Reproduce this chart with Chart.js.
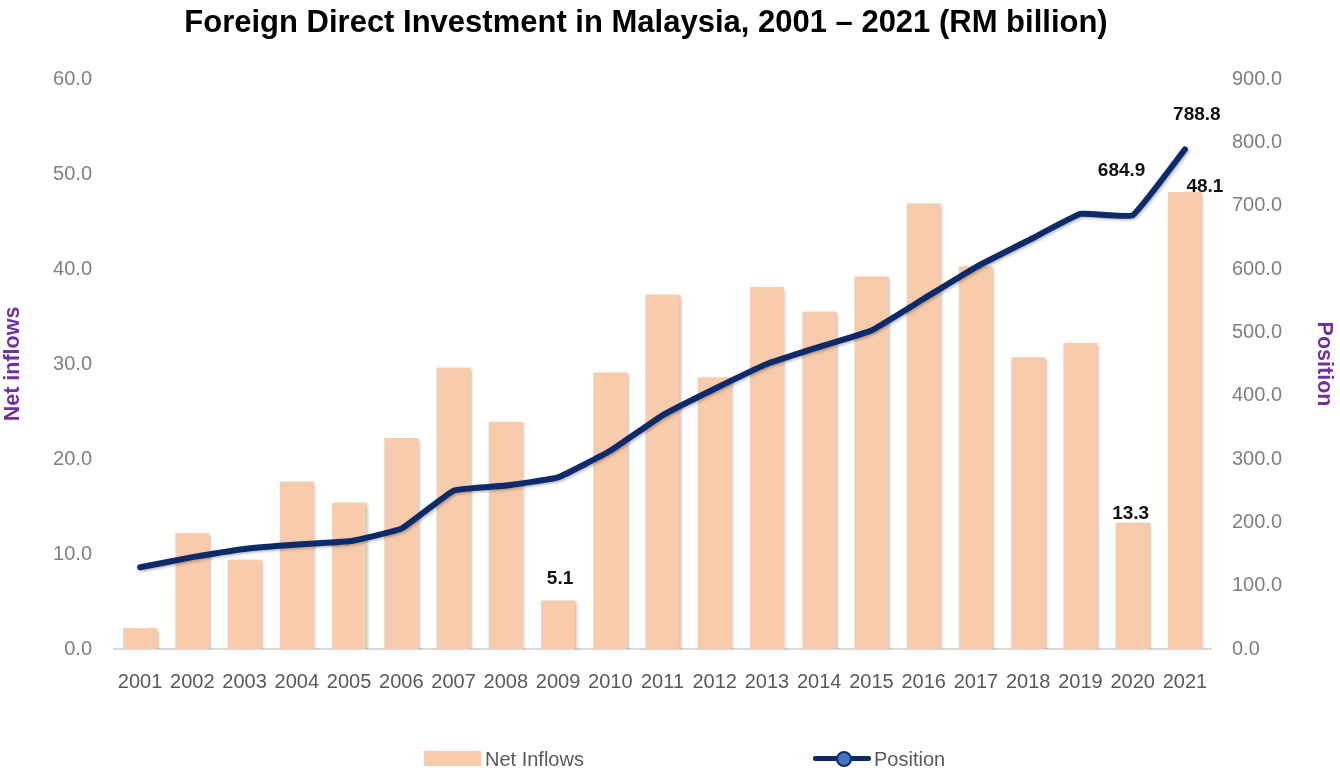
<!DOCTYPE html>
<html>
<head>
<meta charset="utf-8">
<title>Foreign Direct Investment in Malaysia</title>
<script src="https://cdn.jsdelivr.net/npm/chart.js@4.4.1/dist/chart.umd.min.js"></script>
<style>
  html, body { margin: 0; padding: 0; background: #fff; }
  #wrap { position: relative; width: 1340px; height: 771px; overflow: hidden; }
  #chart { position: absolute; left: 0; top: 0; }
  #title { position: absolute; left: 0; top: 4px; width: 1292px; text-align: center;
           font: bold 31px "Liberation Sans", Arial, sans-serif; color: #000; }
  .leg { position: absolute; top: 745px; font: 20px "Liberation Sans", Arial, sans-serif;
         color: #595959; line-height: 28px; }
  #boxInflows { position: absolute; left: 424px; top: 751px; width: 57px; height: 15px; background: #F8CBAD; }
  #lineKey { position: absolute; left: 813px; top: 756px; width: 58px; height: 5px; background: #0D2B6B; border-radius: 2px; }
  #dotKey { position: absolute; left: 836px; top: 751px; width: 12px; height: 12px; border-radius: 50%;
            background: #4472C4; border: 2px solid #0D2B6B; }
</style>
</head>
<body>
<div id="wrap">
  <canvas id="chart" width="1340" height="771"></canvas>
  <div id="title">Foreign Direct Investment in Malaysia, 2001 – 2021 (RM billion)</div>
  <div id="boxInflows"></div>
  <div class="leg" style="left:485px">Net Inflows</div>
  <div id="lineKey"></div>
  <div id="dotKey"></div>
  <div class="leg" style="left:874px">Position</div>
</div>
<script>
var years = ['2001', '2002', '2003', '2004', '2005', '2006', '2007', '2008', '2009', '2010', '2011',
             '2012', '2013', '2014', '2015', '2016', '2017', '2018', '2019', '2020', '2021'];
var netInflows = [2.2, 12.2, 9.4, 17.6, 15.4, 22.2, 29.6, 23.9, 5.1, 29.1, 37.3,
                  28.6, 38.1, 35.5, 39.2, 46.9, 40.3, 30.7, 32.2, 13.3, 48.1];
var position = [129, 145, 158, 165, 170, 190, 250, 258, 271, 313, 369,
                411, 450, 477, 503, 553, 603, 645, 687, 684.9, 788.8];
var inflowTicks = [0, 60, 10];     // min, max, step
var positionTicks = [0, 900, 100];
// which points carry a value label, with offset of the label from the mark
var inflowLabels = [[8, 2, -22], [19, -2, -9], [20, 20, -5]];
var positionLabels = [[19, -11, -44], [20, 12, -35]];

var sans = '"Liberation Sans", Arial, sans-serif';
var navy = '#0D2B6B';
var peach = '#F8CBAD';

var valueLabels = {
  id: 'valueLabels',
  afterDatasetsDraw: function (chart) {
    var ctx = chart.ctx;
    ctx.save();
    ctx.font = 'bold 19px ' + sans;
    ctx.fillStyle = '#111';
    ctx.textAlign = 'center';
    ctx.textBaseline = 'middle';
    [[0, inflowLabels, netInflows], [1, positionLabels, position]].forEach(function (set) {
      var meta = chart.getDatasetMeta(set[0]);
      set[1].forEach(function (l) {
        var el = meta.data[l[0]];
        ctx.fillText(set[2][l[0]].toFixed(1), el.x + l[1], el.y + l[2]);
      });
    });
    ctx.restore();
  }
};

var softShadow = {
  id: 'softShadow',
  beforeDatasetDraw: function (chart) {
    var ctx = chart.ctx;
    ctx.save();
    ctx.shadowColor = 'rgba(0,0,0,0.28)';
    ctx.shadowBlur = 3;
    ctx.shadowOffsetX = 1.5;
    ctx.shadowOffsetY = 1.5;
  },
  afterDatasetDraw: function (chart) {
    chart.ctx.restore();
  }
};

var ctx = document.getElementById('chart').getContext('2d');
var myChart = new Chart(ctx, {
  type: 'bar',
  data: {
    labels: years,
    datasets: [{
      type: 'bar',
      label: 'Net Inflows',
      data: netInflows,
      yAxisID: 'yLeft',
      backgroundColor: peach,
      borderWidth: 0,
      barPercentage: 0.65,
      categoryPercentage: 1,
      order: 2
    }, {
      type: 'line',
      label: 'Position',
      data: position,
      yAxisID: 'yRight',
      borderColor: navy,
      backgroundColor: '#4472C4',
      borderWidth: 6,
      pointRadius: 0,
      tension: 0.1,
      borderCapStyle: 'round',
      borderJoinStyle: 'round',
      order: 1
    }]
  },
  options: {
    responsive: false,
    animation: false,
    layout: { padding: { top: 79, left: 0, right: 0, bottom: 72 } },
    plugins: {
      legend: { display: false },
      title: { display: false },
      tooltip: { enabled: false }
    },
    scales: {
      x: {
        grid: { display: false, drawTicks: false },
        border: { display: true, color: '#D9D9D9', width: 2 },
        ticks: { color: '#595959', padding: 21, maxRotation: 0, autoSkip: false,
                 font: { family: sans, size: 20 } },
        afterFit: function (s) { s.height = 50; }
      },
      yLeft: {
        position: 'left',
        min: inflowTicks[0], max: inflowTicks[1],
        grid: { display: false, drawTicks: false },
        border: { display: false },
        ticks: {
          stepSize: inflowTicks[2], color: '#7F7F7F', padding: 22,
          font: { family: sans, size: 20 },
          callback: function (v) { return v.toFixed(1); }
        },
        title: {
          display: true, text: 'Net inflows', color: '#7030A0', padding: 0,
          font: { family: sans, size: 21.5, weight: 'bold' }
        },
        afterFit: function (s) { s.width = 114; }
      },
      yRight: {
        position: 'right',
        min: positionTicks[0], max: positionTicks[1],
        grid: { display: false, drawTicks: false },
        border: { display: false },
        ticks: {
          stepSize: positionTicks[2], color: '#7F7F7F', padding: 21,
          font: { family: sans, size: 20 },
          callback: function (v) { return v.toFixed(1); }
        },
        title: {
          display: true, text: 'Position', color: '#7030A0', padding: 3,
          font: { family: sans, size: 21.5, weight: 'bold' }
        },
        afterFit: function (s) { s.width = 129; }
      }
    }
  },
  plugins: [softShadow, valueLabels]
});
</script>
</body>
</html>
